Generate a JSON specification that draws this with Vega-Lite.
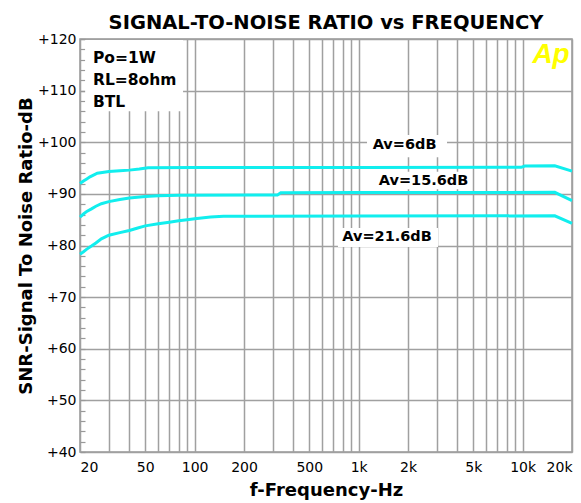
{
  "$schema": "https://vega.github.io/schema/vega-lite/v6.json",
  "description": "Signal-to-noise ratio vs frequency",
  "width": 492,
  "height": 413,
  "autosize": {"type": "none"},
  "padding": {"left": 80, "top": 39, "right": 9, "bottom": 51},
  "background": "white",
  "title": {
    "text": "SIGNAL-TO-NOISE RATIO vs FREQUENCY",
    "font": "DejaVu Sans",
    "fontSize": 19.5,
    "fontWeight": "bold",
    "color": "black",
    "anchor": "middle",
    "frame": "group",
    "baseline": "alphabetic",
    "offset": -16
  },
  "datasets": {
    "curves": [
      {"s": "6", "f": 20, "v": 92.0},
      {"s": "6", "f": 21, "v": 92.5},
      {"s": "6", "f": 22, "v": 92.9},
      {"s": "6", "f": 23, "v": 93.3},
      {"s": "6", "f": 24, "v": 93.6},
      {"s": "6", "f": 25.5, "v": 94.0},
      {"s": "6", "f": 28, "v": 94.2},
      {"s": "6", "f": 30, "v": 94.35},
      {"s": "6", "f": 35, "v": 94.5},
      {"s": "6", "f": 40, "v": 94.6},
      {"s": "6", "f": 46, "v": 94.8},
      {"s": "6", "f": 52, "v": 95.05},
      {"s": "6", "f": 100, "v": 95.1},
      {"s": "6", "f": 1000, "v": 95.1},
      {"s": "6", "f": 9800, "v": 95.15},
      {"s": "6", "f": 10300, "v": 95.4},
      {"s": "6", "f": 15700, "v": 95.45},
      {"s": "6", "f": 20000, "v": 94.4},
      {"s": "15.6", "f": 20, "v": 85.5},
      {"s": "15.6", "f": 21, "v": 86.1},
      {"s": "15.6", "f": 22, "v": 86.6},
      {"s": "15.6", "f": 23.5, "v": 87.1},
      {"s": "15.6", "f": 25, "v": 87.6},
      {"s": "15.6", "f": 27, "v": 88.1},
      {"s": "15.6", "f": 30, "v": 88.5},
      {"s": "15.6", "f": 35, "v": 88.9},
      {"s": "15.6", "f": 40, "v": 89.2},
      {"s": "15.6", "f": 50, "v": 89.5},
      {"s": "15.6", "f": 60, "v": 89.65},
      {"s": "15.6", "f": 80, "v": 89.75},
      {"s": "15.6", "f": 320, "v": 89.8},
      {"s": "15.6", "f": 335, "v": 90.2},
      {"s": "15.6", "f": 1000, "v": 90.25},
      {"s": "15.6", "f": 15700, "v": 90.3},
      {"s": "15.6", "f": 20000, "v": 88.7},
      {"s": "21.6", "f": 20, "v": 78.3},
      {"s": "21.6", "f": 21, "v": 78.8},
      {"s": "21.6", "f": 22, "v": 79.3},
      {"s": "21.6", "f": 23.5, "v": 79.9},
      {"s": "21.6", "f": 25, "v": 80.5},
      {"s": "21.6", "f": 27, "v": 81.3},
      {"s": "21.6", "f": 30, "v": 82.0},
      {"s": "21.6", "f": 35, "v": 82.5},
      {"s": "21.6", "f": 40, "v": 82.9},
      {"s": "21.6", "f": 45, "v": 83.4},
      {"s": "21.6", "f": 50, "v": 83.8},
      {"s": "21.6", "f": 60, "v": 84.2},
      {"s": "21.6", "f": 70, "v": 84.5},
      {"s": "21.6", "f": 80, "v": 84.8},
      {"s": "21.6", "f": 90, "v": 85.0},
      {"s": "21.6", "f": 100, "v": 85.2},
      {"s": "21.6", "f": 125, "v": 85.5},
      {"s": "21.6", "f": 150, "v": 85.65},
      {"s": "21.6", "f": 1000, "v": 85.7},
      {"s": "21.6", "f": 15700, "v": 85.75},
      {"s": "21.6", "f": 20000, "v": 84.3}
    ],
    "boxes": [
      {"f1": 21.5, "f2": 85, "d1": 106, "d2": 119.8},
      {"f1": 1125, "f2": 3459, "d1": 97.1, "d2": 101.4},
      {"f1": 1259, "f2": 4911, "d1": 90.9, "d2": 94.3},
      {"f1": 748, "f2": 3048, "d1": 79.7, "d2": 83.4}
    ],
    "notes": [
      {"t": "Po=1W", "f": 24, "d": 116.4},
      {"t": "RL=8ohm", "f": 24, "d": 112.05},
      {"t": "BTL", "f": 24, "d": 107.8}
    ],
    "gains": [
      {"t": "Av=6dB", "f": 1905, "d": 99.45},
      {"t": "Av=15.6dB", "f": 2487, "d": 92.4},
      {"t": "Av=21.6dB", "f": 1490, "d": 81.55}
    ],
    "logo": [
      {"t": "Ap", "f": 14900, "d": 115.35}
    ]
  },
  "layer": [
    {
      "data": {"name": "boxes"},
      "mark": {"type": "rect", "fill": "white", "strokeWidth": 0},
      "encoding": {
        "x": {
          "field": "f1",
          "type": "quantitative",
          "scale": {"type": "log", "domain": [20, 20000], "nice": false},
          "axis": {
            "orient": "bottom",
            "title": "f-Frequency-Hz",
            "values": [20, 30, 40, 50, 60, 70, 80, 90, 100, 200, 300, 400, 500, 600, 700, 800, 900, 1000, 2000, 3000, 4000, 5000, 6000, 7000, 8000, 9000, 10000, 20000],
            "labelExpr": "indexof([20, 50, 100, 200, 500, 1000, 2000, 5000, 10000, 20000], datum.value) < 0 ? '' : (datum.value >= 1000 ? (datum.value / 1000) + 'k' : '' + datum.value)",
            "labelFlush": true,
            "labelOverlap": false,
            "ticks": false,
            "domain": false,
            "labelPadding": 8,
            "titlePadding": 7
          }
        },
        "x2": {"field": "f2"},
        "y": {
          "field": "d1",
          "type": "quantitative",
          "scale": {"domain": [40, 120], "nice": false, "zero": false},
          "axis": {
            "orient": "left",
            "title": "SNR-Signal To  Noise Ratio-dB",
            "values": [40, 42, 44, 46, 48, 50, 52, 54, 56, 58, 60, 62, 64, 66, 68, 70, 72, 74, 76, 78, 80, 82, 84, 86, 88, 90, 92, 94, 96, 98, 100, 102, 104, 106, 108, 110, 112, 114, 116, 118, 120],
            "tickCount": 41,
            "labelExpr": "datum.value % 10 === 0 ? '+' + datum.value : ''",
            "labelOverlap": false,
            "gridOpacity": {"condition": {"test": "datum.value % 10 === 0", "value": 1}, "value": 0},
            "ticks": true,
            "tickSize": -5,
            "tickColor": "#999999",
            "tickWidth": 1.2,
            "domain": false,
            "labelPadding": 9,
            "titlePadding": 2
          }
        },
        "y2": {"field": "d2"}
      }
    },
    {
      "data": {"name": "curves"},
      "mark": {"type": "line", "color": "#11eeee", "strokeWidth": 3},
      "encoding": {
        "x": {"field": "f", "type": "quantitative"},
        "y": {"field": "v", "type": "quantitative"},
        "detail": {"field": "s", "type": "nominal"}
      }
    },
    {
      "data": {"name": "notes"},
      "mark": {"type": "text", "align": "left", "baseline": "middle", "font": "DejaVu Sans", "fontWeight": "bold", "fontSize": 15.5, "color": "black"},
      "encoding": {
        "x": {"field": "f", "type": "quantitative"},
        "y": {"field": "d", "type": "quantitative"},
        "text": {"field": "t"}
      }
    },
    {
      "data": {"name": "gains"},
      "mark": {"type": "text", "align": "center", "baseline": "middle", "font": "DejaVu Sans", "fontWeight": "bold", "fontSize": 14.5, "color": "black"},
      "encoding": {
        "x": {"field": "f", "type": "quantitative"},
        "y": {"field": "d", "type": "quantitative"},
        "text": {"field": "t"}
      }
    },
    {
      "data": {"name": "logo"},
      "mark": {"type": "text", "align": "center", "baseline": "alphabetic", "font": "Liberation Sans", "fontWeight": "bold", "fontStyle": "italic", "fontSize": 28, "color": "#ffff00"},
      "encoding": {
        "x": {"field": "f", "type": "quantitative"},
        "y": {"field": "d", "type": "quantitative"},
        "text": {"field": "t"}
      }
    }
  ],
  "config": {
    "view": {"stroke": "#999999", "strokeWidth": 1.5},
    "axis": {
      "gridColor": "#a0a0a0",
      "gridWidth": 1.5,
      "labelFont": "DejaVu Sans",
      "labelFontSize": 14,
      "labelColor": "black",
      "titleFont": "DejaVu Sans",
      "titleFontSize": 18,
      "titleFontWeight": "bold",
      "titleColor": "black"
    }
  }
}
